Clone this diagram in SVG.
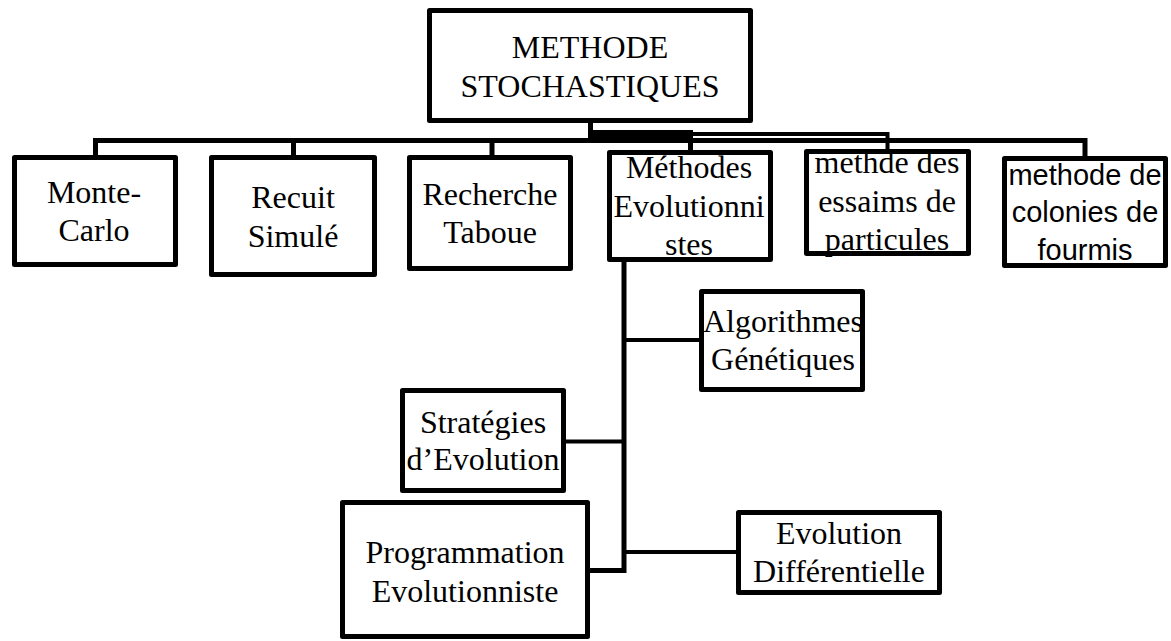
<svg xmlns="http://www.w3.org/2000/svg" width="1171" height="641" viewBox="0 0 1171 641">
<style>
.box{fill:#fff;stroke:#000;stroke-width:5;stroke-linejoin:round}
.ln{fill:none;stroke:#000;stroke-width:5}
.br{fill:none;stroke:#000;stroke-width:4}
.t{font-family:'Liberation Serif','DejaVu Serif','Times New Roman',Times,serif;font-size:32px;fill:#000;text-anchor:middle}
.s{font-family:'Liberation Sans',Arial,sans-serif;font-size:29px;fill:#000;text-anchor:middle}
</style>
<rect width="1171" height="641" fill="#fff"/>
<g id="connectors">
<path class="ln" d="M590.5 122 V142"/>
<rect x="588" y="130" width="105" height="12" fill="#000"/>
<path class="br" d="M590 134 H887.5 V151"/>
<path class="ln" d="M95.5 158 V140.5 H1085 V158"/>
<path class="ln" d="M293.5 140 V158"/>
<path class="ln" d="M492 140 V158"/>
<path class="ln" d="M690.5 140 V153"/>
<path class="ln" d="M624 262 V570.5 H588"/>
<path class="br" d="M624 340 H700"/>
<path class="br" d="M565 441.5 H624"/>
<path class="br" d="M624 552 H737"/>
</g>
<g id="n-root">
<rect class="box" x="429.5" y="10.5" width="321" height="110"/>
<text class="t" font-family="Liberation Serif, serif" x="590" y="58">METHODE</text>
<text class="t" font-family="Liberation Serif, serif" x="590" y="97">STOCHASTIQUES</text>
</g>
<g id="n-montecarlo">
<rect class="box" x="14.5" y="157.5" width="161" height="107"/>
<text class="t" x="94" y="203">Monte-</text>
<text class="t" x="94" y="241">Carlo</text>
</g>
<g id="n-recuit">
<rect class="box" x="211.5" y="157.5" width="163" height="117"/>
<text class="t" x="293" y="208">Recuit</text>
<text class="t" x="293" y="247">Simulé</text>
</g>
<g id="n-recherche">
<rect class="box" x="409.5" y="157.5" width="161" height="111"/>
<text class="t" x="490" y="205">Recherche</text>
<text class="t" x="490" y="243">Taboue</text>
</g>
<g id="n-evolutionnistes">
<rect class="box" x="609.5" y="152.5" width="161" height="107"/>
<text class="t" x="689" y="178">Méthodes</text>
<text class="t" x="689" y="217">Evolutionni</text>
<text class="t" x="689" y="255">stes</text>
</g>
<g id="n-essaims">
<rect class="box" x="806.5" y="151.5" width="162" height="102"/>
<text class="t" x="887" y="173">methde des</text>
<text class="t" x="887" y="212">essaims de</text>
<text class="t" x="887" y="250">particules</text>
</g>
<g id="n-fourmis">
<rect class="box" x="1004.5" y="158.5" width="161" height="107"/>
<text class="s" x="1085" y="185">methode de</text>
<text class="s" x="1085" y="222">colonies de</text>
<text class="s" x="1085" y="260">fourmis</text>
</g>
<g id="n-genetiques">
<rect class="box" x="701.5" y="291.5" width="161" height="98"/>
<text class="t" x="783" y="332">Algorithmes</text>
<text class="t" x="783" y="370">Génétiques</text>
</g>
<g id="n-strategies">
<rect class="box" x="402.5" y="390.5" width="161" height="100"/>
<text class="t" x="483" y="433">Stratégies</text>
<text class="t" x="483" y="470">d’Evolution</text>
</g>
<g id="n-programmation">
<rect class="box" x="342.5" y="502.5" width="245" height="134"/>
<text class="t" x="465" y="563">Programmation</text>
<text class="t" x="465" y="602">Evolutionniste</text>
</g>
<g id="n-differentielle">
<rect class="box" x="738.5" y="512.5" width="201" height="80"/>
<text class="t" x="839" y="544">Evolution</text>
<text class="t" x="839" y="582">Différentielle</text>
</g>
</svg>
